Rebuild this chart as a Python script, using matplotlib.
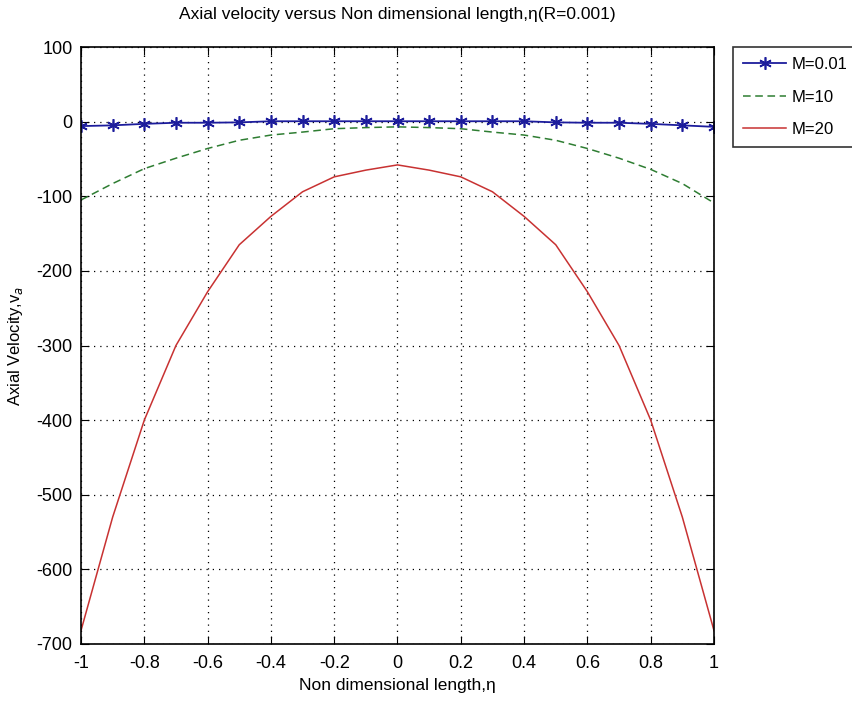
import numpy as np
import matplotlib
matplotlib.use("Agg")
import matplotlib.pyplot as plt

plt.rcParams['font.family'] = ['Liberation Sans', 'DejaVu Sans']
plt.rcParams['axes.unicode_minus'] = False

eta = [-1.0, -0.9, -0.8, -0.7, -0.6, -0.5, -0.4, -0.3, -0.2, -0.1, 0.0,
       0.1, 0.2, 0.3, 0.4, 0.5, 0.6, 0.7, 0.8, 0.9, 1.0]

v_m001 = [-6, -5, -3, -1.5, -1.5, -1, 0.5, 0.5, 0.5, 0.5, 0.5,
          0.5, 0.5, 0.5, 0.5, -1, -1.5, -1.5, -3, -5, -7]
v_m10 = [-105, -83, -63, -49, -36, -25, -18, -14, -9.5, -8, -7,
         -8, -9.5, -14, -18, -25, -36, -49, -64, -83, -109]
v_m20 = [-682, -530, -400, -300, -228, -165, -127, -94, -74, -65, -58,
         -65, -74, -94, -127, -165, -228, -300, -400, -530, -682]

labels = ["M=0.01", "M=10", "M=20"]

fig = plt.figure(figsize=(8.52, 7.06), dpi=100)
ax = fig.add_axes([81/852, 62/706, 633/852, 597/706])

ax.plot(eta, v_m001, color='#1c1c9c', marker=(6, 2, 0), markersize=9, mew=1.2,
        lw=1.3, label=labels[0])
ax.plot(eta, v_m10, color='#2e7d32', ls='--', dashes=(5, 3), lw=1.1, label=labels[1])
ax.plot(eta, v_m20, color='#c83232', lw=1.1, label=labels[2])

ax.set_xlim(-1, 1)
ax.set_ylim(-700, 100)
ax.set_xticks(np.arange(-1, 1.01, 0.2))
ax.set_xticklabels(['-1', '-0.8', '-0.6', '-0.4', '-0.2', '0', '0.2', '0.4', '0.6', '0.8', '1'])
ax.set_yticks(np.arange(-700, 101, 100))
ax.grid(True, ls=(0, (1, 4)), color='black', lw=0.9)
ax.tick_params(direction='in', top=True, right=True, labelsize=13, length=6)
ax.tick_params(axis='x', pad=8)
ax.tick_params(axis='y', pad=6)
for s in ax.spines.values():
    s.set_linewidth(1.2)

ax.set_title("Axial velocity versus Non dimensional length,η(R=0.001)", fontsize=12.5, pad=20)
ax.set_xlabel("Non dimensional length,η", fontsize=12.5, labelpad=4)
ax.set_ylabel("Axial Velocity,v$_{a}$", fontsize=12, labelpad=8)

leg = fig.legend(loc='upper left', bbox_to_anchor=(733/852, 1 - 47/706), fontsize=12,
                 frameon=True, fancybox=False, edgecolor='black', handlelength=2.6,
                 borderpad=0.6, labelspacing=1.05, handletextpad=0.3, borderaxespad=0)
leg.get_frame().set_linewidth(1.2)

fig.savefig("out.png", dpi=100)
